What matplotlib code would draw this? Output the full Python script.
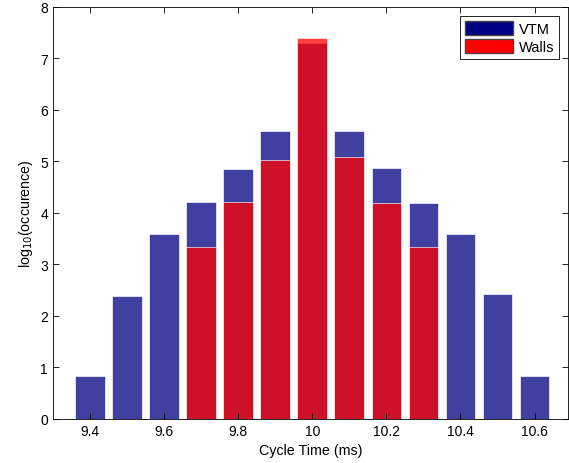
import numpy as np
import matplotlib.pyplot as plt
from matplotlib.patches import Patch

plt.rcParams['font.family'] = ['Liberation Sans', 'DejaVu Sans']

# cycle time bins (ms) and log10 occurrence values
cycle_time = [9.4, 9.5, 9.6, 9.7, 9.8, 9.9, 10.0, 10.1, 10.2, 10.3, 10.4, 10.5, 10.6]
vtm = [0.83, 2.39, 3.59, 4.21, 4.85, 5.59, 7.29, 5.59, 4.87, 4.19, 3.59, 2.43, 0.83]
walls = [0, 0, 0, 3.34, 4.21, 5.03, 7.40, 5.09, 4.19, 3.34, 0, 0, 0]
xticks = [9.4, 9.6, 9.8, 10.0, 10.2, 10.4, 10.6]
xtick_labels = ["9.4", "9.6", "9.8", "10", "10.2", "10.4", "10.6"]

fig = plt.figure(figsize=(5.69, 4.64), dpi=100)
ax = fig.add_axes([0.093, 0.095, 0.905, 0.888])

ax.bar(cycle_time, vtm, width=0.08, color="#000080", alpha=0.75,
       edgecolor="white", linewidth=0.6)
ax.bar(cycle_time, walls, width=0.08, color="#ff0000", alpha=0.75,
       edgecolor="white", linewidth=0.6)

ax.set_xlim(9.3, 10.69)
ax.set_ylim(0, 8)
ax.set_xticks(xticks)
ax.set_xticklabels(xtick_labels)
ax.set_yticks(range(9))
ax.tick_params(direction="in", top=True, right=True, labelsize=10, length=4, width=0.6)
for sp in ax.spines.values():
    sp.set_linewidth(0.6)

ax.set_xlabel("Cycle Time (ms)", fontsize=10.3)
ax.set_ylabel("log$_{10}$(occurence)", fontsize=10.3)

handles = [Patch(facecolor="#000080", edgecolor="#444444", label="VTM"),
           Patch(facecolor="#ff0000", edgecolor="#444444", label="Walls")]
leg = ax.legend(handles=handles, loc="upper right", fontsize=10.5, fancybox=False,
                edgecolor="black", framealpha=1, handlelength=3.3, handleheight=1.1,
                borderaxespad=0.6, borderpad=0.35, labelspacing=0.25, handletextpad=0.35)
leg.get_frame().set_linewidth(0.6)

fig.savefig("out.png", dpi=100)
